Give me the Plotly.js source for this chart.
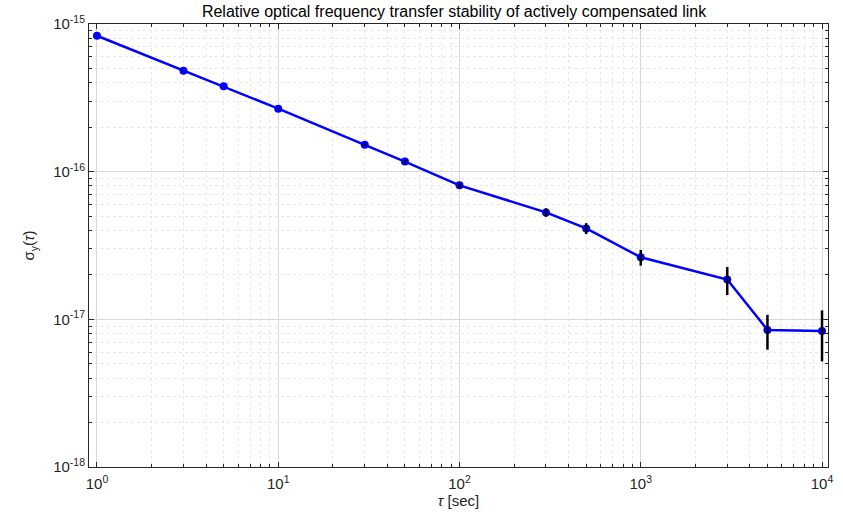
<!DOCTYPE html>
<html><head><meta charset="utf-8">
<script src="https://cdn.plot.ly/plotly-3.0.1.min.js"></script>
<style>html,body{margin:0;padding:0;background:#fff}#chart{width:843px;height:512px}</style>
</head><body><div id="chart"></div>
<script>
const tau = [1, 3, 5, 10, 30, 50, 100, 300, 500, 1000, 3000, 5000, 10000];
const sigma = [8.33e-16, 4.83e-16, 3.79e-16, 2.67e-16, 1.52e-16, 1.17e-16, 8.08e-17, 5.30e-17, 4.13e-17, 2.63e-17, 1.86e-17, 8.48e-18, 8.34e-18];
const sigmaErr = [2e-18, 2e-18, 2e-18, 2e-18, 3e-18, 3e-18, 3.5e-18, 3.5e-18, 3.5e-18, 3.2e-18, 4.0e-18, 2.25e-18, 3.15e-18];
const xTickVals = [1, 10, 100, 1000, 10000];
const xTickText = ['10<sup>0</sup>', '10<sup>1</sup>', '10<sup>2</sup>', '10<sup>3</sup>', '10<sup>4</sup>'];
const yTickVals = [1e-18, 1e-17, 1e-16, 1e-15];
const yTickText = ['10<sup>-18</sup>', '10<sup>-17</sup>', '10<sup>-16</sup>', '10<sup>-15</sup>'];

const font = 'Liberation Sans, Arial, sans-serif';
const axisCommon = {
  type: 'log',
  showline: true, linecolor: '#262626', linewidth: 1,
  mirror: 'ticks', ticks: 'inside', ticklen: 5, tickcolor: '#262626', tickwidth: 1,
  tickmode: 'array',
  showgrid: true, gridcolor: '#d8d8d8', gridwidth: 1,
  zeroline: false,
  tickfont: {family: font, size: 15, color: '#262626'},
  minor: {tickmode: 'linear', dtick: 'D1', ticks: 'inside', ticklen: 3, tickcolor: '#262626',
          showgrid: true, gridcolor: '#e8e8e8', griddash: 'dot', gridwidth: 1}
};

const traces = [
  {x: tau, y: sigma, mode: 'lines+markers', type: 'scatter',
   line: {color: '#0000ff', width: 2.5},
   marker: {color: '#0000ff', size: 8},
   hoverinfo: 'none'},
  {x: tau, y: sigma, mode: 'markers', type: 'scatter',
   marker: {color: 'rgba(0,0,0,0)', size: 1},
   error_y: {type: 'data', array: sigmaErr, symmetric: true, color: '#000000', thickness: 2.5, width: 0},
   hoverinfo: 'none'}
];

const layout = {
  width: 843, height: 512,
  margin: {l: 89, r: 15, t: 24, b: 45},
  paper_bgcolor: '#ffffff', plot_bgcolor: '#ffffff',
  showlegend: false,
  font: {family: font, color: '#262626'},
  title: {text: 'Relative optical frequency transfer stability of actively compensated link',
          font: {family: font, size: 16, color: '#000000'}, x: 0.5386, xanchor: 'center', y: 0.977, yanchor: 'middle'},
  xaxis: Object.assign({}, axisCommon, {
    range: [-0.044, 4.033],
    tickvals: xTickVals, ticktext: xTickText, ticklabelstandoff: 3,
    title: {text: '<i>τ</i> [sec]', font: {family: font, size: 15, color: '#262626'}, standoff: 2}
  }),
  yaxis: Object.assign({}, axisCommon, {
    range: [-18, -15],
    tickvals: yTickVals, ticktext: yTickText,
    title: {text: 'σ<sub>y</sub>(<i>τ</i>)', font: {family: font, size: 15, color: '#262626'}, standoff: 14}
  })
};

Plotly.newPlot('chart', traces, layout, {displayModeBar: false, staticPlot: true});
</script>
</body></html>
